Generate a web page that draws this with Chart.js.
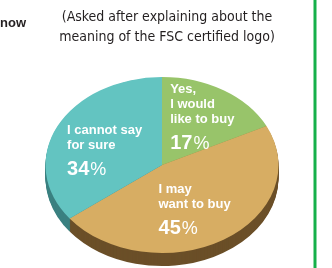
<!DOCTYPE html>
<html>
<head>
<meta charset="utf-8">
<script src="https://cdn.jsdelivr.net/npm/chart.js@4/dist/chart.umd.min.js"></script>
<style>
  html, body { margin: 0; padding: 0; background: #fff; overflow: hidden; }
  #wrap { position: absolute; left: 0; top: 0; width: 332px; height: 300px; }
</style>
</head>
<body>
<div id="wrap"><canvas id="pie"></canvas></div>
<script>
// answers, clockwise from 12 o'clock
const answers = ['Yes, I would like to buy', 'I may want to buy', 'I cannot say for sure'];
const shares = [17, 45, 34];
const faceColors = ['#98c46a', '#d7ad63', '#63c4c1'];
const sideColors = ['#6f9447', '#6b4f28', '#3b8181'];
const labelLines = [['Yes,', 'I would', 'like to buy'], ['I may', 'want to buy'], ['I cannot say', 'for sure']];
// label anchor, in units of the pie radius from its centre
const labelAnchors = [[0.07, -0.62], [-0.03, 0.24], [-0.815, -0.265]];
const titleLines = ['(Asked after explaining about the', 'meaning of the FSC certified logo)'];

const squash = 0.755;   // ellipse height / width
const depth = 13;       // side thickness in px

function squashAround(ctx, x, y) {
    ctx.translate(x, y);
    ctx.scale(1, squash);
    ctx.translate(-x, -y);
}

const pie3d = {
    id: 'pie3d',
    beforeDatasetsDraw(chart) {
        const ctx = chart.ctx;
        const meta = chart.getDatasetMeta(0);
        const c = meta.data[0];
        // side walls: stacked copies pushed down
        for (let d = depth; d >= 1; d--) {
            ctx.save();
            ctx.translate(0, d);
            squashAround(ctx, c.x, c.y);
            meta.data.forEach((arc, i) => {
                ctx.beginPath();
                ctx.moveTo(arc.x, arc.y);
                ctx.arc(arc.x, arc.y, arc.outerRadius, arc.startAngle, arc.endAngle);
                ctx.closePath();
                ctx.fillStyle = sideColors[i];
                ctx.fill();
            });
            ctx.restore();
        }
        ctx.save();
        squashAround(ctx, c.x, c.y);
    },
    afterDatasetsDraw(chart) {
        chart.ctx.restore();
    },
    afterDraw(chart) {
        const ctx = chart.ctx;
        const meta = chart.getDatasetMeta(0);
        const c = meta.data[0];
        const r = c.outerRadius;
        ctx.save();
        ctx.textBaseline = 'alphabetic';
        ctx.textAlign = 'left';
        meta.data.forEach((arc, i) => {
            const x = c.x + labelAnchors[i][0] * r;
            let y = c.y + labelAnchors[i][1] * r;
            ctx.fillStyle = '#ffffff';
            ctx.font = 'bold 13px "Liberation Sans", Arial, sans-serif';
            labelLines[i].forEach((line, j) => {
                ctx.fillText(line, x, y + j * 15);
            });
            const py = y + (labelLines[i].length - 1) * 15 + 26;
            ctx.font = 'bold 20px "Liberation Sans", Arial, sans-serif';
            const num = String(shares[i]);
            ctx.fillText(num, x, py);
            const w = ctx.measureText(num).width;
            ctx.font = '18px "Liberation Sans", Arial, sans-serif';
            ctx.fillText('%', x + w + 1, py);
        });

        // heading text
        ctx.fillStyle = '#231f20';
        ctx.textAlign = 'center';
        ctx.font = '14px "DejaVu Sans Condensed", sans-serif';
        titleLines.forEach((line, j) => ctx.fillText(line, 167, 21 + j * 20));
        ctx.textAlign = 'left';
        ctx.font = 'bold 13px "Liberation Sans", Arial, sans-serif';
        ctx.fillText('now', 0, 27);

        // green frame rule on the right
        ctx.fillStyle = '#16b04a';
        ctx.fillRect(313.5, 0, 3, 268);
        ctx.restore();
    }
};

new Chart(document.getElementById('pie'), {
    type: 'pie',
    data: {
        labels: answers,
        datasets: [{
            data: shares,
            backgroundColor: faceColors,
            borderWidth: 0
        }]
    },
    options: {
        responsive: true,
        maintainAspectRatio: false,
        animation: false,
        events: [],
        layout: { padding: { left: 45.5, top: 48.5, right: 53.5, bottom: 18.5 } },
        plugins: {
            legend: { display: false },
            tooltip: { enabled: false },
            title: { display: false }
        }
    },
    plugins: [pie3d]
});
</script>
</body>
</html>
